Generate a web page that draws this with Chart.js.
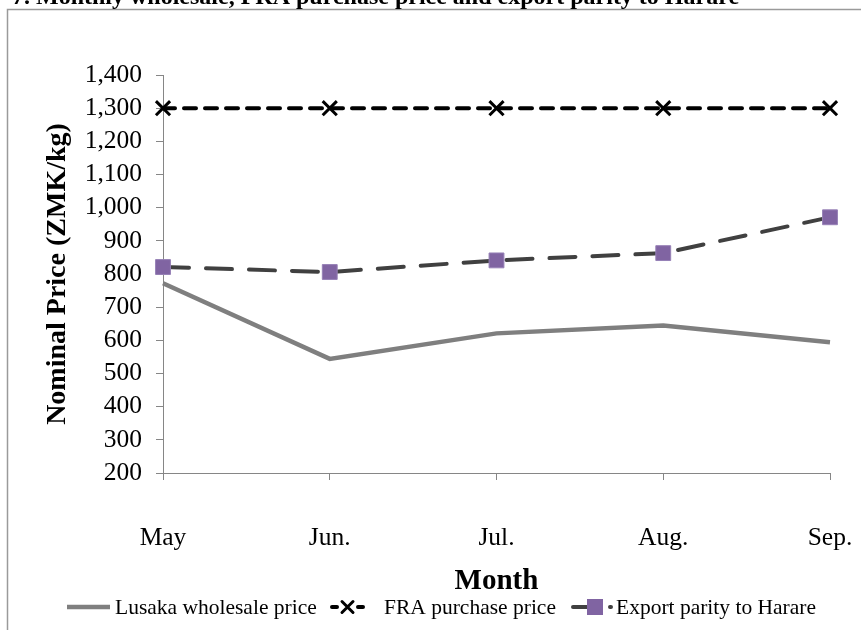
<!DOCTYPE html>
<html>
<head>
<meta charset="utf-8">
<script src="https://cdn.jsdelivr.net/npm/chart.js@4/dist/chart.umd.min.js"></script>
<style>
  html, body { margin: 0; padding: 0; background: #fff; overflow: hidden; }
  #wrap { position: relative; width: 861px; height: 630px; }
  canvas { display: block; }
</style>
</head>
<body>
<div id="wrap"><canvas id="c" width="861" height="630"></canvas></div>
<script>
// Monthly maize prices, ZMK per kg
const months = ['May', 'Jun.', 'Jul.', 'Aug.', 'Sep.'];
const lusakaWholesale = [772, 544, 621, 645, 594];
const fraPurchase = [1300, 1300, 1300, 1300, 1300];
const exportParityHarare = [821, 806, 841, 863, 971];
const seriesNames = ['Lusaka wholesale price', 'FRA purchase price', 'Export parity to Harare'];
const yMin = 200, yMax = 1400, yStep = 100;
const figureTitle = '7. Monthly wholesale, FRA purchase price and export parity to Harare';

const SERIF = '"Liberation Serif", "Times New Roman", Times, serif';
const AXIS_GREY = '#868686';

// frame around the figure and the heading above it
const framePlugin = {
  id: 'frame',
  beforeDraw(chart) {
    const ctx = chart.ctx;
    ctx.save();
    ctx.fillStyle = '#fff';
    ctx.fillRect(0, 0, chart.width, chart.height);
    ctx.strokeStyle = '#9a9a9a';
    ctx.lineWidth = 1.5;
    ctx.beginPath();
    ctx.moveTo(7.5, chart.height);
    ctx.lineTo(7.5, 9.5);
    ctx.lineTo(chart.width, 9.5);
    ctx.stroke();
    ctx.fillStyle = '#000';
    ctx.font = 'bold 24px ' + SERIF;
    ctx.textBaseline = 'alphabetic';
    ctx.textAlign = 'left';
    ctx.fillText(figureTitle, 12, 4);
    ctx.restore();
  }
};

// legend row under the x-axis title, styled from each dataset
const legendPlugin = {
  id: 'rowLegend',
  afterDraw(chart) {
    const ctx = chart.ctx;
    const ds = chart.data.datasets;
    const y = 607;
    ctx.save();
    ctx.lineCap = 'butt';

    // wholesale: plain grey line
    ctx.strokeStyle = ds[0].borderColor;
    ctx.lineWidth = ds[0].borderWidth;
    ctx.beginPath(); ctx.moveTo(67, y); ctx.lineTo(110, y); ctx.stroke();

    // FRA: short dashes either side of a cross
    ctx.strokeStyle = ds[1].borderColor;
    ctx.lineWidth = ds[1].borderWidth;
    ctx.lineCap = 'round';
    ctx.beginPath(); ctx.moveTo(332, y); ctx.lineTo(337, y); ctx.moveTo(358, y); ctx.lineTo(363, y); ctx.stroke();
    ctx.lineWidth = ds[1].pointBorderWidth;
    const h = 5.5;
    ctx.beginPath();
    ctx.moveTo(347.5 - h, y - h); ctx.lineTo(347.5 + h, y + h);
    ctx.moveTo(347.5 - h, y + h); ctx.lineTo(347.5 + h, y - h);
    ctx.stroke();

    // export parity: dark dash, square marker, trailing dot
    ctx.strokeStyle = ds[2].borderColor;
    ctx.lineWidth = ds[2].borderWidth;
    ctx.lineCap = 'round';
    ctx.beginPath(); ctx.moveTo(573, y); ctx.lineTo(588, y); ctx.moveTo(610, y); ctx.lineTo(611, y); ctx.stroke();
    ctx.fillStyle = ds[2].pointBackgroundColor;
    ctx.fillRect(587, y - 8, 16, 16);

    ctx.fillStyle = '#000';
    ctx.font = '21.5px ' + SERIF;
    ctx.textBaseline = 'middle';
    ctx.textAlign = 'left';
    ctx.fillText(ds[0].label, 115, y + 1);
    ctx.fillText(ds[1].label, 384, y + 1);
    ctx.fillText(ds[2].label, 616, y + 1);
    ctx.restore();
  }
};

new Chart(document.getElementById('c'), {
  type: 'line',
  data: {
    labels: months,
    datasets: [
      {
        label: seriesNames[0],
        data: lusakaWholesale,
        borderColor: '#7f7f7f',
        borderWidth: 4.5,
        pointRadius: 0,
        tension: 0,
        fill: false,
        order: 3
      },
      {
        label: seriesNames[1],
        data: fraPurchase,
        borderColor: '#000000',
        borderWidth: 4,
        borderDash: [12, 9],
        borderCapStyle: 'round',
        pointStyle: 'crossRot',
        pointRadius: 10,
        pointBorderWidth: 3,
        pointBorderColor: '#000000',
        pointBackgroundColor: '#000000',
        tension: 0,
        fill: false,
        order: 1
      },
      {
        label: seriesNames[2],
        data: exportParityHarare,
        borderColor: '#404040',
        borderWidth: 4,
        borderDash: [26, 17],
        borderCapStyle: 'round',
        pointStyle: 'rect',
        pointRadius: 10.5,
        pointBorderWidth: 1,
        pointBorderColor: '#9680b6',
        pointBackgroundColor: '#8064a2',
        tension: 0,
        fill: false,
        order: 2
      }
    ]
  },
  options: {
    responsive: false,
    devicePixelRatio: 1,
    animation: false,
    events: [],
    layout: { padding: { top: 75, right: 31, bottom: 31, left: 0 } },
    plugins: {
      legend: { display: false },
      title: { display: false },
      tooltip: { enabled: false }
    },
    scales: {
      x: {
        type: 'category',
        offset: false,
        border: { display: true, color: AXIS_GREY, width: 1 },
        grid: { display: true, drawOnChartArea: false, drawTicks: true, tickLength: 7, color: AXIS_GREY, lineWidth: 1 },
        // tall line box drops the month labels well below the axis
        ticks: { color: '#000', font: { family: SERIF, size: 25.5, lineHeight: '116px' }, padding: 0, maxRotation: 0, autoSkip: false },
        title: { display: true, text: 'Month', color: '#000', font: { family: SERIF, size: 29, weight: 'bold' }, padding: { top: 0, bottom: 0 } },
        afterFit(scale) { scale.height = 126; }
      },
      y: {
        type: 'linear',
        min: yMin,
        max: yMax,
        border: { display: true, color: AXIS_GREY, width: 1 },
        grid: { display: true, drawOnChartArea: false, drawTicks: true, tickLength: 7, color: AXIS_GREY, lineWidth: 1 },
        ticks: {
          stepSize: yStep,
          autoSkip: false,
          color: '#000',
          font: { family: SERIF, size: 25.5 },
          padding: 14,
          callback: v => v.toLocaleString('en-US')
        },
        title: { display: true, text: 'Nominal Price (ZMK/kg)', color: '#000', font: { family: SERIF, size: 28, weight: 'bold' }, padding: { top: 41, bottom: 0 } },
        afterFit(scale) { scale.width = 163; }
      }
    }
  },
  plugins: [framePlugin, legendPlugin]
});
</script>
</body>
</html>
